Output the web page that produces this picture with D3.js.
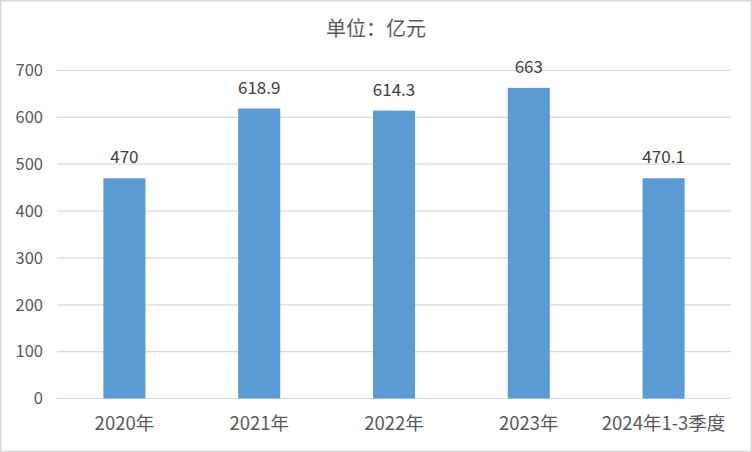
<!DOCTYPE html>
<html><head><meta charset="utf-8">
<script src="https://cdn.jsdelivr.net/npm/d3@7"></script>
<style>body{margin:0;background:#fff}svg{display:block}</style>
</head><body>
<svg id="c" width="752" height="452"></svg>
<script>
const categories = ["2020年","2021年","2022年","2023年","2024年1-3季度"];
const values = [470, 618.9, 614.3, 663, 470.1];
const valueLabels = ["470","618.9","614.3","663","470.1"];
const yTicks = [0,100,200,300,400,500,600,700];
const title = "单位：亿元";

const svg = d3.select("#c");
const font = "'Microsoft YaHei','Noto Sans CJK SC','Liberation Sans',sans-serif";
svg.append("rect").attr("x",0.75).attr("y",0.75).attr("width",750.5).attr("height",450.5)
  .attr("fill","#fff").attr("stroke","#d9d9d9").attr("stroke-width",1.5);

const x = d3.scaleBand().domain(categories).range([57,731]).paddingInner(0.688).paddingOuter(0.344);
const y = d3.scaleLinear().domain([0,700]).range([398.5,70.5]);

svg.append("g").selectAll("line").data(yTicks).join("line")
  .attr("x1",57).attr("x2",731).attr("y1",d=>y(d)).attr("y2",d=>y(d))
  .attr("stroke","#d9d9d9").attr("stroke-width",1.2);

svg.append("g").selectAll("text").data(yTicks).join("text")
  .attr("x",43).attr("y",d=>y(d)).attr("dy","0.35em").attr("text-anchor","end")
  .attr("font-family",font).attr("font-size",16.5).attr("fill","#595959").text(d=>d);

svg.append("g").selectAll("rect").data(values).join("rect")
  .attr("x",(d,i)=>x(categories[i])).attr("width",x.bandwidth())
  .attr("y",d=>y(d)).attr("height",d=>y(0)-y(d)).attr("fill","#5b9bd5");

svg.append("g").selectAll("text").data(values).join("text")
  .attr("x",(d,i)=>x(categories[i])+x.bandwidth()/2).attr("y",d=>y(d)-15)
  .attr("text-anchor","middle").attr("font-family",font).attr("font-size",17).attr("fill","#404040")
  .text((d,i)=>valueLabels[i]);

svg.append("g").selectAll("text").data(categories).join("text")
  .attr("x",d=>x(d)+x.bandwidth()/2).attr("y",430)
  .attr("text-anchor","middle").attr("font-family",font).attr("font-size",18.5).attr("fill","#595959")
  .text(d=>d);

svg.append("text").attr("x",376).attr("y",36).attr("text-anchor","middle")
  .attr("font-family",font).attr("font-size",20).attr("fill","#595959").text(title);
</script>
</body></html>
